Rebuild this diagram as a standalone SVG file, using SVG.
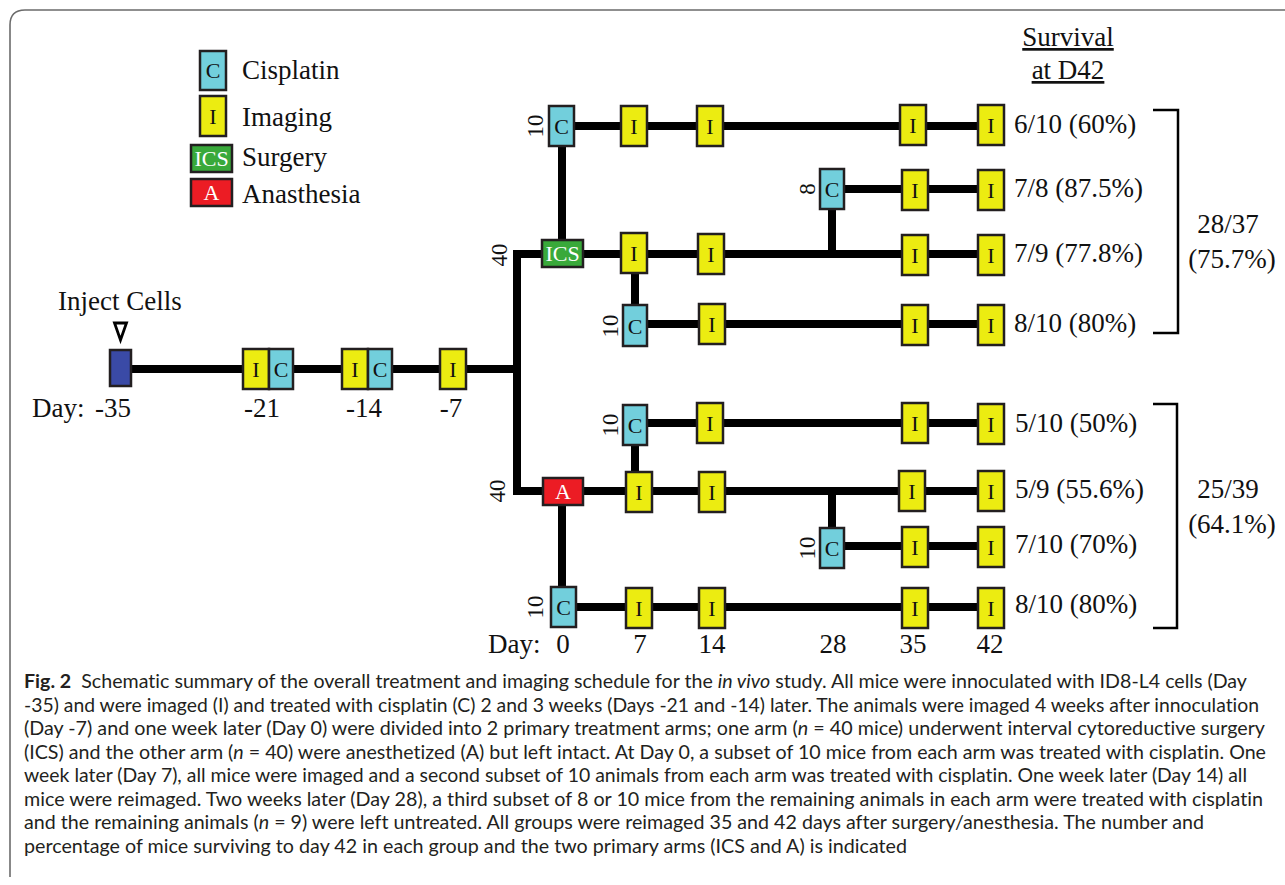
<svg xmlns="http://www.w3.org/2000/svg" width="1285" height="885" viewBox="0 0 1285 885">
<style>
.bx{stroke:#231f20;stroke-width:2.5}
.c{fill:#72cfdc}.i{fill:#ecec11}.g{fill:#39a93a}.r{fill:#ec1c24}.b{fill:#3a4aa6}
.ln{stroke:#000;stroke-width:8;fill:none;stroke-linejoin:miter}
.t{font-family:"Liberation Serif",serif;font-size:27px;fill:#111}
.n{font-family:"Liberation Serif",serif;font-size:23px;fill:#111;text-anchor:middle}
.bl{font-family:"Liberation Serif",serif;font-size:22px;fill:#111;text-anchor:middle}
.wl{font-family:"Liberation Serif",serif;font-size:22px;fill:#fff;text-anchor:middle}
.m{text-anchor:middle}
.cap{font-family:Lato,"Open Sans",sans-serif;font-size:19px;fill:#231f20;font-variant-ligatures:none}
</style>
<rect width="1285" height="885" fill="#fff"/>
<path d="M10 877 V25 Q10 10 25 10 H1290" fill="none" stroke="#6b6b6b" stroke-width="1.6"/>

<g id="legend">
<g id="leg-c"><rect class="bx c" x="200" y="51" width="26" height="39"/><text class="bl" x="213" y="78">C</text><text class="t" x="242" y="79">Cisplatin</text></g>
<g id="leg-i"><rect class="bx i" x="200" y="96" width="26" height="40"/><text class="bl" x="213" y="124">I</text><text class="t" x="242" y="126">Imaging</text></g>
<g id="leg-ics"><rect class="bx g" x="191" y="145" width="41" height="27"/><text class="wl" x="211.5" y="166">ICS</text><text class="t" x="242" y="166">Surgery</text></g>
<g id="leg-a"><rect class="bx r" x="191" y="179" width="41" height="27"/><text class="wl" x="211.5" y="200">A</text><text class="t" x="242" y="203">Anasthesia</text></g>
</g>

<g id="connectors">
<path class="ln" d="M132 369 H517"/>
<path class="ln" d="M562 254 H517 V491 H562"/>
<path class="ln" d="M562 126 V254"/>
<path class="ln" d="M562 126 H991"/>
<path class="ln" d="M832 189 H991"/>
<path class="ln" d="M832 189 V254"/>
<path class="ln" d="M562 254 H991"/>
<path class="ln" d="M635 254 V324 H991"/>
<path class="ln" d="M635 423 H991"/>
<path class="ln" d="M635 423 V491"/>
<path class="ln" d="M562 491 H991"/>
<path class="ln" d="M832 491 V546 H991"/>
<path class="ln" d="M562 491 V607 H991"/>
<path d="M1153 110 H1178 V333 H1153" fill="none" stroke="#000" stroke-width="2.5"/>
<path d="M1153 404 H1177 V628 H1153" fill="none" stroke="#000" stroke-width="2.5"/>
</g>

<g id="inject">
<text class="t" x="58" y="310">Inject Cells</text>
<polygon points="114.5,323 126.5,323 120.5,340" fill="#fff" stroke="#000" stroke-width="2.8"/>
<rect class="bx b" x="110" y="350" width="21" height="36"/>
</g>
<g id="n-i21"><rect class="bx i" x="243" y="349" width="26" height="40"/><text class="bl" x="256" y="377">I</text></g>
<g id="n-c21"><rect class="bx c" x="269" y="349" width="24" height="40"/><text class="bl" x="281" y="377">C</text></g>
<g id="n-i14"><rect class="bx i" x="342" y="349" width="26" height="40"/><text class="bl" x="355" y="377">I</text></g>
<g id="n-c14"><rect class="bx c" x="368" y="349" width="24" height="40"/><text class="bl" x="380" y="377">C</text></g>
<g id="n-i7"><rect class="bx i" x="440" y="349" width="26" height="40"/><text class="bl" x="453" y="377">I</text></g>

<g id="n-ics"><rect class="bx g" x="542" y="240" width="41" height="27"/><text class="wl" x="562.5" y="261">ICS</text></g>
<g id="n-a"><rect class="bx r" x="543" y="478" width="40" height="27"/><text class="wl" x="563" y="499">A</text></g>

<g id="n-c0-r1"><rect class="bx c" x="549" y="106" width="25" height="40"/><text class="bl" x="561.5" y="134">C</text></g>
<g id="n-i7-r1"><rect class="bx i" x="621" y="106" width="26" height="40"/><text class="bl" x="634" y="134">I</text></g>
<g id="n-i14-r1"><rect class="bx i" x="697" y="106" width="26" height="40"/><text class="bl" x="710" y="134">I</text></g>
<g id="n-i35-r1"><rect class="bx i" x="900" y="105" width="26" height="40"/><text class="bl" x="913" y="133">I</text></g>
<g id="n-i42-r1"><rect class="bx i" x="978" y="105" width="26" height="40"/><text class="bl" x="991" y="133">I</text></g>

<g id="n-c28-r2"><rect class="bx c" x="820" y="169" width="24" height="40"/><text class="bl" x="832" y="197">C</text></g>
<g id="n-i35-r2"><rect class="bx i" x="902" y="170" width="26" height="40"/><text class="bl" x="915" y="198">I</text></g>
<g id="n-i42-r2"><rect class="bx i" x="978" y="170" width="26" height="40"/><text class="bl" x="991" y="198">I</text></g>

<g id="n-i7-r3"><rect class="bx i" x="621" y="233" width="26" height="40"/><text class="bl" x="634" y="261">I</text></g>
<g id="n-i14-r3"><rect class="bx i" x="698" y="234" width="26" height="40"/><text class="bl" x="711" y="262">I</text></g>
<g id="n-i35-r3"><rect class="bx i" x="902" y="235" width="26" height="40"/><text class="bl" x="915" y="263">I</text></g>
<g id="n-i42-r3"><rect class="bx i" x="978" y="235" width="26" height="40"/><text class="bl" x="991" y="263">I</text></g>

<g id="n-c7-r4"><rect class="bx c" x="623" y="305" width="24" height="41"/><text class="bl" x="635" y="334">C</text></g>
<g id="n-i14-r4"><rect class="bx i" x="699" y="304" width="26" height="40"/><text class="bl" x="712" y="332">I</text></g>
<g id="n-i35-r4"><rect class="bx i" x="902" y="305" width="26" height="40"/><text class="bl" x="915" y="333">I</text></g>
<g id="n-i42-r4"><rect class="bx i" x="978" y="305" width="26" height="40"/><text class="bl" x="991" y="333">I</text></g>

<g id="n-c7-l1"><rect class="bx c" x="623" y="405" width="24" height="40"/><text class="bl" x="635" y="433">C</text></g>
<g id="n-i14-l1"><rect class="bx i" x="697" y="403" width="26" height="40"/><text class="bl" x="710" y="431">I</text></g>
<g id="n-i35-l1"><rect class="bx i" x="902" y="403" width="26" height="40"/><text class="bl" x="915" y="431">I</text></g>
<g id="n-i42-l1"><rect class="bx i" x="978" y="404" width="26" height="40"/><text class="bl" x="991" y="432">I</text></g>

<g id="n-i7-a"><rect class="bx i" x="626" y="472" width="26" height="40"/><text class="bl" x="639" y="500">I</text></g>
<g id="n-i14-a"><rect class="bx i" x="699" y="472" width="26" height="40"/><text class="bl" x="712" y="500">I</text></g>
<g id="n-i35-a"><rect class="bx i" x="899" y="471" width="26" height="40"/><text class="bl" x="912" y="499">I</text></g>
<g id="n-i42-a"><rect class="bx i" x="978" y="471" width="26" height="40"/><text class="bl" x="991" y="499">I</text></g>

<g id="n-c28-l3"><rect class="bx c" x="820" y="528" width="24" height="40"/><text class="bl" x="832" y="556">C</text></g>
<g id="n-i35-l3"><rect class="bx i" x="902" y="527" width="26" height="40"/><text class="bl" x="915" y="555">I</text></g>
<g id="n-i42-l3"><rect class="bx i" x="978" y="527" width="26" height="40"/><text class="bl" x="991" y="555">I</text></g>

<g id="n-c0-l4"><rect class="bx c" x="551" y="587" width="25" height="40"/><text class="bl" x="563.5" y="615">C</text></g>
<g id="n-i7-l4"><rect class="bx i" x="626" y="588" width="26" height="40"/><text class="bl" x="639" y="616">I</text></g>
<g id="n-i14-l4"><rect class="bx i" x="699" y="588" width="26" height="40"/><text class="bl" x="712" y="616">I</text></g>
<g id="n-i35-l4"><rect class="bx i" x="902" y="588" width="26" height="40"/><text class="bl" x="915" y="616">I</text></g>
<g id="n-i42-l4"><rect class="bx i" x="978" y="588" width="26" height="40"/><text class="bl" x="991" y="616">I</text></g>

<g id="counts">
<text class="n" transform="translate(543,126) rotate(-90)">10</text>
<text class="n" transform="translate(815,189) rotate(-90)">8</text>
<text class="n" transform="translate(618,326) rotate(-90)">10</text>
<text class="n" transform="translate(507,255) rotate(-90)">40</text>
<text class="n" transform="translate(505,491) rotate(-90)">40</text>
<text class="n" transform="translate(618,425) rotate(-90)">10</text>
<text class="n" transform="translate(815,548) rotate(-90)">10</text>
<text class="n" transform="translate(543,607) rotate(-90)">10</text>
</g>

<g id="days">
<text class="t" x="32" y="417" font-size="26">Day:</text>
<text class="t m" x="113" y="417" font-size="26">-35</text>
<text class="t m" x="262" y="417" font-size="26">-21</text>
<text class="t m" x="364" y="417" font-size="26">-14</text>
<text class="t m" x="451" y="417" font-size="26">-7</text>
<text class="t" x="488" y="653">Day:</text>
<text class="t m" x="563" y="653">0</text>
<text class="t m" x="640" y="653">7</text>
<text class="t m" x="712" y="653">14</text>
<text class="t m" x="833" y="653">28</text>
<text class="t m" x="913" y="653">35</text>
<text class="t m" x="990" y="653">42</text>
</g>

<g id="survival">
<text class="t m" x="1068" y="46" text-decoration="underline">Survival</text>
<text class="t m" x="1068" y="79" text-decoration="underline">at D42</text>
<text class="t" x="1014" y="133">6/10 (60%)</text>
<text class="t" x="1014" y="197">7/8 (87.5%)</text>
<text class="t" x="1014" y="262">7/9 (77.8%)</text>
<text class="t" x="1014" y="332">8/10 (80%)</text>
<text class="t" x="1015" y="432">5/10 (50%)</text>
<text class="t" x="1015" y="498">5/9 (55.6%)</text>
<text class="t" x="1015" y="553">7/10 (70%)</text>
<text class="t" x="1015" y="613">8/10 (80%)</text>
<text class="t m" x="1228" y="233">28/37</text>
<text class="t m" x="1232" y="268">(75.7%)</text>
<text class="t m" x="1228" y="498">25/39</text>
<text class="t m" x="1232" y="533">(64.1%)</text>
</g>

<g id="caption" class="cap">
<text x="24" y="688" textLength="1223" lengthAdjust="spacingAndGlyphs"><tspan font-weight="bold">Fig. 2</tspan>&#160; Schematic summary of the overall treatment and imaging schedule for the <tspan font-style="italic">in vivo</tspan> study. All mice were innoculated with ID8-L4 cells (Day</text>
<text x="24" y="711.5" textLength="1235" lengthAdjust="spacingAndGlyphs">-35) and were imaged (I) and treated with cisplatin (C) 2 and 3 weeks (Days -21 and -14) later. The animals were imaged 4 weeks after innoculation</text>
<text x="24" y="735" textLength="1241" lengthAdjust="spacingAndGlyphs">(Day -7) and one week later (Day 0) were divided into 2 primary treatment arms; one arm (<tspan font-style="italic">n</tspan> = 40 mice) underwent interval cytoreductive surgery</text>
<text x="24" y="758.5" textLength="1242" lengthAdjust="spacingAndGlyphs">(ICS) and the other arm (<tspan font-style="italic">n</tspan> = 40) were anesthetized (A) but left intact. At Day 0, a subset of 10 mice from each arm was treated with cisplatin. One</text>
<text x="24" y="782" textLength="1223" lengthAdjust="spacingAndGlyphs">week later (Day 7), all mice were imaged and a second subset of 10 animals from each arm was treated with cisplatin. One week later (Day 14) all</text>
<text x="24" y="805.5" textLength="1239" lengthAdjust="spacingAndGlyphs">mice were reimaged. Two weeks later (Day 28), a third subset of 8 or 10 mice from the remaining animals in each arm were treated with cisplatin</text>
<text x="24" y="829" textLength="1180" lengthAdjust="spacingAndGlyphs">and the remaining animals (<tspan font-style="italic">n</tspan> = 9) were left untreated. All groups were reimaged 35 and 42 days after surgery/anesthesia. The number and</text>
<text x="24" y="852.5" textLength="883" lengthAdjust="spacingAndGlyphs">percentage of mice surviving to day 42 in each group and the two primary arms (ICS and A) is indicated</text>
</g>
</svg>
